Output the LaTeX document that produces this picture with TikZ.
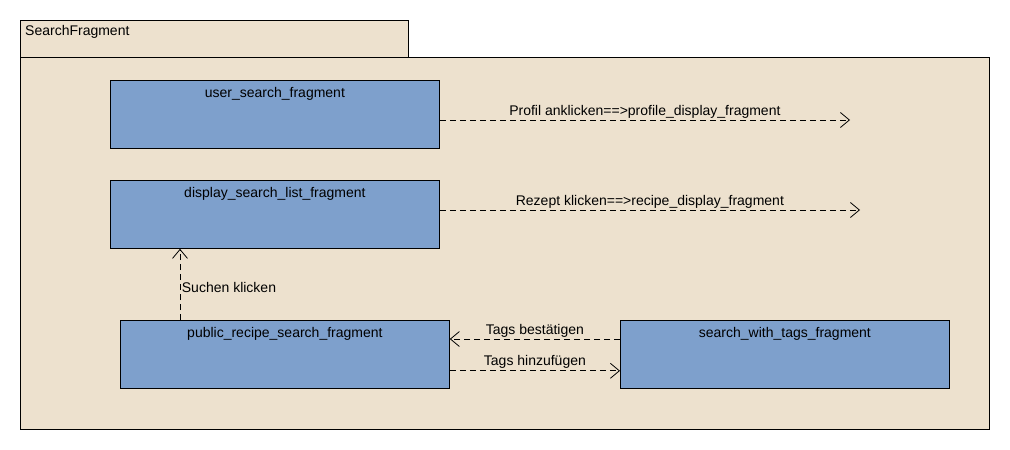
\documentclass[tikz,border=0pt]{standalone}
\usepackage{fontspec}
\setmainfont{Liberation Sans}
\usepackage{tikz}
\usetikzlibrary{arrows.meta}

\definecolor{pkgbg}{HTML}{EDE1CE}
\definecolor{fragblue}{HTML}{7EA0CC}

\tikzset{
  frag/.style={draw, line width=0.8pt, fill=fragblue, anchor=north west,
    minimum width=329pt, minimum height=68pt, inner sep=0pt},
  fraglabel/.style={anchor=north, yshift=-7pt, inner sep=0pt},
  dep/.style={line width=0.8pt, dash pattern=on 6pt off 4pt,
    -{Straight Barb[length=9pt,width=15pt,line width=0.8pt]}},
  deplabel/.style={inner sep=1.5pt}
}

\begin{document}
\begin{tikzpicture}[x=1pt,y=-1pt,font=\fontsize{14}{16}\selectfont]
\useasboundingbox (0,0) rectangle (1010,450);

% package frame with tab
\draw[line width=0.8pt, fill=pkgbg] (20,20) rectangle (408,57);
\draw[line width=0.8pt, fill=pkgbg] (20,57) rectangle (989,429);
\node[anchor=north west, inner sep=0pt] (pkg) at (25,25) {SearchFragment};

% fragments
\node[frag, label={[fraglabel]north:user\_search\_fragment}] (user) at (110,80) {};
\node[frag, label={[fraglabel]north:display\_search\_list\_fragment}] (display) at (110,180) {};
\node[frag, label={[fraglabel]north:public\_recipe\_search\_fragment}] (public) at (120,320) {};
\node[frag, label={[fraglabel]north:search\_with\_tags\_fragment}] (tags) at (620,320) {};

% free ends
\coordinate (profile) at (850,120);
\coordinate (recipe) at (860,210);

% dependencies
\draw[dep] (user.east |- profile) -- node[deplabel, above] {Profil anklicken==>profile\_display\_fragment} (profile);
\draw[dep] (display.east |- recipe) -- node[deplabel, above] {Rezept klicken==>recipe\_display\_fragment} (recipe);
\draw[dep] (public.north west) ++(60,0) coordinate (up) -- node[deplabel, right, pos=0.45] {Suchen klicken} (up |- display.south);
\draw[dep] ([yshift=-19pt]tags.north west) -- node[deplabel, above] {Tags bestätigen} ([yshift=-19pt]public.north east);
\draw[dep] ([yshift=18pt]public.south east) -- node[deplabel, above] {Tags hinzufügen} ([yshift=18pt]tags.south west);

\end{tikzpicture}
\end{document}
